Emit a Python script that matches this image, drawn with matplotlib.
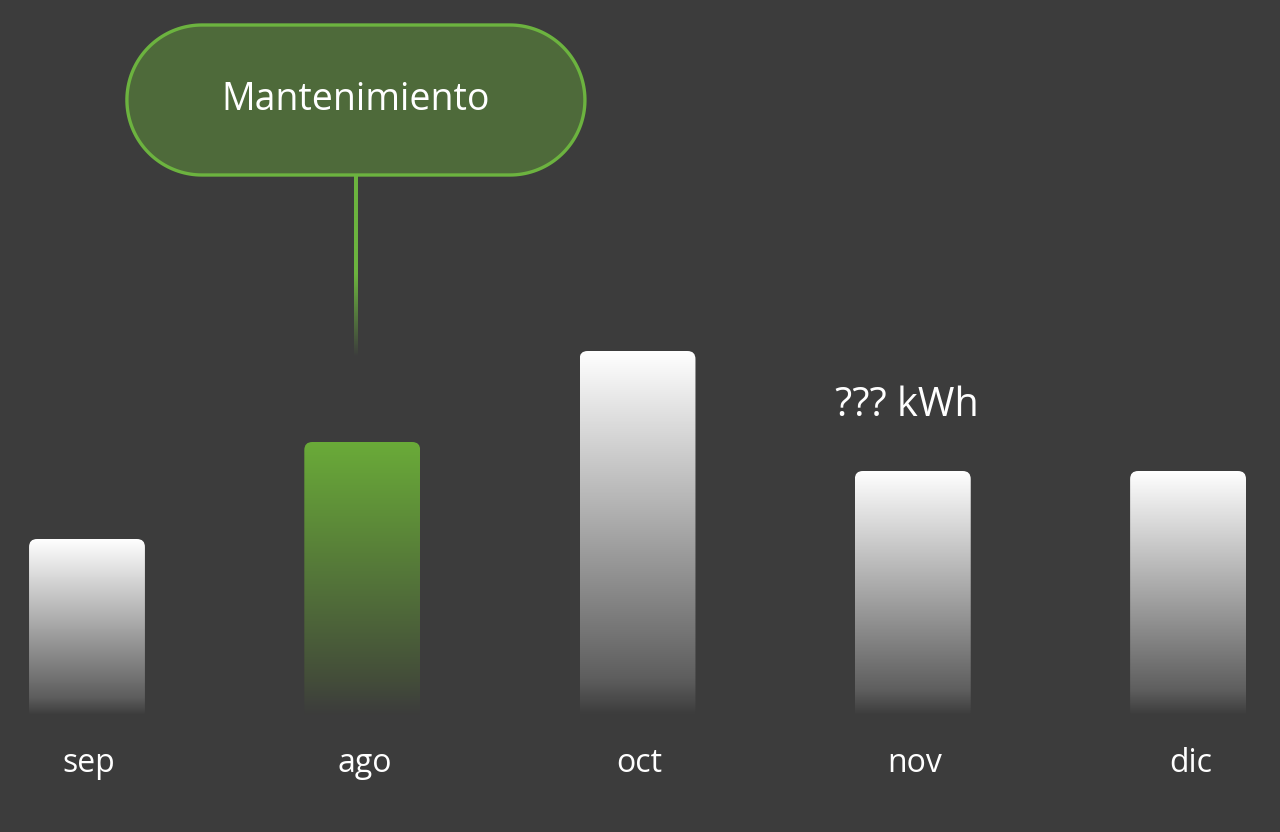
import numpy as np
import matplotlib
matplotlib.use("Agg")
import matplotlib.pyplot as plt
from matplotlib.patches import FancyBboxPatch, Polygon
from matplotlib.colors import to_rgb

# ---- data ----
months = ["sep", "ago", "oct", "nov", "dic"]
values = [176, 273, 364, 244, 244]
highlight = "ago"
callout_text = "Mantenimiento"
value_label = "??? kWh"
value_label_month = "nov"

# ---- style ----
BG = "#3c3c3c"
GREEN = "#6cb33f"
GREEN_TOP = "#6aab38"
PILL_FILL = "#4e6a3a"
WHITE = "#ffffff"
GRAY_BOTTOM = "#5e5e5e"
FONT = ["Open Sans", "DejaVu Sans"]

fig = plt.figure(figsize=(12.8, 8.32), dpi=100, facecolor=BG)
ax = fig.add_axes([0, 0, 1, 1], facecolor=BG)
ax.set_xlim(-0.316, 4.334)
ax.set_ylim(-117, 715)
ax.axis("off")

x = np.arange(len(months))
width = 0.421
bars = ax.bar(x, values, width, color="none", edgecolor="none")

xunit_px = 1280 / (4.334 + 0.316)   # pixels per x unit
yunit_px = 832 / (715 + 117)        # pixels per y unit
radius_x = 8 / xunit_px
aspect = (8 / yunit_px) / radius_x


def gradient_image(top, bottom, bg, split=0.9, n=400):
    top = np.array(to_rgb(top)); bottom = np.array(to_rgb(bottom)); bg = np.array(to_rgb(bg))
    col = np.zeros((n, 1, 3))
    for i, ti in enumerate(np.linspace(0, 1, n)):
        if ti <= split:
            f = ti / split
            col[i, 0] = top * (1 - f) + bottom * f
        else:
            f = (ti - split) / (1 - split)
            col[i, 0] = bottom * (1 - f) + bg * f
    return col


for rect, m in zip(bars, months):
    x0, y0 = rect.get_x(), rect.get_y()
    w, h = rect.get_width(), rect.get_height()
    if m == highlight:
        img = gradient_image(GREEN_TOP, "#434c3a", BG, split=0.88)
    else:
        img = gradient_image(WHITE, GRAY_BOTTOM, BG, split=0.9)
    im = ax.imshow(img, extent=[x0, x0 + w, y0, y0 + h], aspect="auto",
                   interpolation="bilinear", zorder=2)
    clip = FancyBboxPatch((x0, y0 - 20), w, h + 20,
                          boxstyle=f"round,pad=0,rounding_size={radius_x}",
                          mutation_aspect=aspect, transform=ax.transData,
                          facecolor="none", edgecolor="none")
    ax.add_patch(clip)
    im.set_clip_path(clip)

# month labels
for xi, m in zip(x, months):
    ax.text(xi + 0.008, -48, m, color=WHITE, fontsize=23, ha="center", va="center",
            family=FONT)

# value label above nov
ni = months.index(value_label_month)
ax.text(ni - 0.02, values[ni] + 65, value_label, color=WHITE, fontsize=28.5,
        ha="center", va="center", family=FONT)

# callout pill (stadium shape) for highlighted bar
hi = months.index(highlight)
cx = hi - 0.023
pill_w = 458 / xunit_px
pill_h = 150 / yunit_px
pill_cy = 615
rx = (75 / xunit_px)
ry = pill_h / 2
th = np.linspace(np.pi / 2, 3 * np.pi / 2, 80)
left = np.column_stack([cx - pill_w / 2 + rx + rx * np.cos(th), pill_cy + ry * np.sin(th)])
th2 = np.linspace(-np.pi / 2, np.pi / 2, 80)
right = np.column_stack([cx + pill_w / 2 - rx + rx * np.cos(th2), pill_cy + ry * np.sin(th2)])
pill = Polygon(np.vstack([left, right]), closed=True, facecolor=PILL_FILL,
               edgecolor=GREEN, linewidth=2.4, zorder=4)
ax.add_patch(pill)
ax.text(cx, pill_cy, callout_text, color=WHITE, fontsize=27, ha="center",
        va="center", family=FONT, zorder=5)

# connector line fading out (gradient image)
y_start = pill_cy - pill_h / 2
y_end = values[hi] + 85
n = 300
alpha = np.ones(n)
t = np.linspace(0, 1, n)  # 0 = top
alpha[t > 0.55] = np.clip(1 - (t[t > 0.55] - 0.55) / 0.45, 0, 1)
line_img = np.zeros((n, 1, 4))
line_img[:, 0, :3] = to_rgb(GREEN)
line_img[:, 0, 3] = alpha
half = 1.5 / xunit_px
ax.imshow(line_img, extent=[cx - half, cx + half, y_end, y_start], aspect="auto",
          interpolation="bilinear", zorder=3)

ax.set_xlim(-0.316, 4.334)
ax.set_ylim(-117, 715)
fig.savefig("out.png", dpi=100, facecolor=BG)
